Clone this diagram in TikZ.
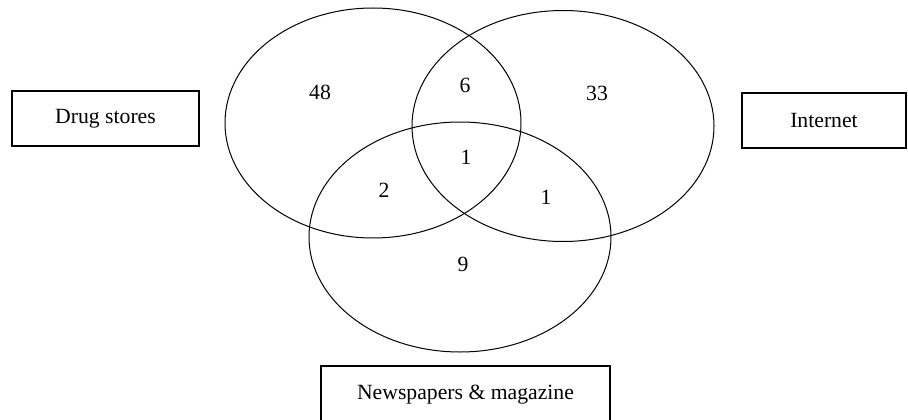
\documentclass[tikz,border=0pt]{standalone}
\usepackage{fontspec}
\setmainfont{Liberation Serif}
\usetikzlibrary{shapes.geometric, positioning}

\begin{document}
\begin{tikzpicture}[x=1pt, y=-1pt, font=\fontsize{21.7}{26}\selectfont,
    set/.style={ellipse, draw, line width=1pt, inner sep=0pt},
    tag/.style={rectangle, draw, line width=1.4pt, inner sep=0pt, minimum height=55pt},
    num/.style={inner sep=0pt}]

  \useasboundingbox (0,0) rectangle (908,420);
  \node[set, minimum width=296pt, minimum height=230pt] (drug) at (373,123) {};
  \node[set, minimum width=302pt, minimum height=231pt] (net) at (563,126) {};
  \node[set, minimum width=302pt, minimum height=230pt] (news) at (460,237) {};

  \node[tag, minimum width=187pt] (drugbox) at (105.5,118.5) {Drug stores};
  \node[tag, minimum width=164pt] (netbox) at (824,120.5) {Internet};
  \node[tag, minimum width=289pt, minimum height=57pt] (newsbox) at (465.5,394.5) {Newspapers \& magazine};

  \node[num] (only drug) at (320,92) {48};
  \node[num] (only net) at (597,93) {33};
  \node[num] (drug net) at (465,85) {6};
  \node[num] (all) at (466,157) {1};
  \node[num] (drug news) at (384,190) {2};
  \node[num] (net news) at (546,197) {1};
  \node[num] (only news) at (463,264) {9};
\end{tikzpicture}
\end{document}
